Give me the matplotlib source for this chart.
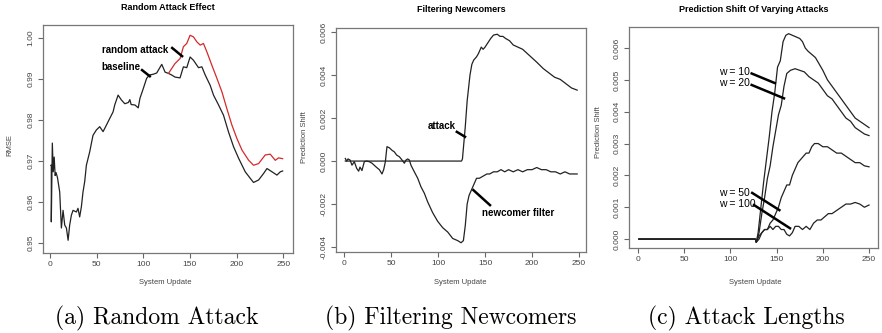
import matplotlib
matplotlib.use("Agg")
import matplotlib.pyplot as plt

# -------------------------
# Data
# -------------------------

# (a) RMSE over system updates
base_t = [1, 1.4, 1.4, 2.5, 3.5, 4.5, 5.5, 6.5, 8, 10.4, 12.2, 14, 15.8, 17.6, 19.4,
          21.1, 22.9, 24.7, 28.3, 30, 31.8, 33.6, 35.4, 37.2, 39, 42.6, 46.1, 49.7,
          53.3, 56.9, 60.5, 64, 67.6, 69.4, 73, 76.6, 80.2, 84, 85.6, 87, 91, 94.6,
          96.4, 100, 103.6, 106.5, 110.8, 114.4, 119.8, 123.4, 127, 130.5, 134,
          139.4, 143, 146.6, 150.2, 153.8, 159.2, 162.8, 166.4, 171.7, 175.3,
          180.7, 186, 191.4, 196.8, 202.2, 209.3, 214.7, 218.2, 223.6, 229,
          232.6, 238, 243.3, 246.9, 249.4]
base_rmse = [0.9690, 0.9690, 0.9552, 0.9744, 0.9674, 0.9710, 0.9665, 0.9672, 0.9660,
             0.9625, 0.9537, 0.9580, 0.9544, 0.9537, 0.9507, 0.9544, 0.9568, 0.9580,
             0.9576, 0.9585, 0.9564, 0.9588, 0.9625, 0.9650, 0.9690, 0.9723, 0.9763,
             0.9776, 0.9784, 0.9772, 0.9788, 0.9804, 0.9820, 0.9837, 0.9861, 0.9849,
             0.9840, 0.9843, 0.9850, 0.9838, 0.9837, 0.9830, 0.9853, 0.9877, 0.9902,
             0.9910, 0.9912, 0.9915, 0.9936, 0.9917, 0.9914, 0.9910, 0.9905, 0.9903,
             0.9930, 0.9928, 0.9954, 0.9946, 0.9928, 0.9930, 0.9910, 0.9885, 0.9861,
             0.9837, 0.9812, 0.9771, 0.9735, 0.9707, 0.9674, 0.9658, 0.9648, 0.9654,
             0.9670, 0.9682, 0.9674, 0.9666, 0.9674, 0.9676]

attack_t = [127, 130.5, 134, 139.4, 143, 146.6, 150.2, 153.8, 157.4, 161, 164.5,
            168.1, 173.5, 178.9, 184.3, 189.6, 195, 200.4, 205.8, 213, 218.2,
            223.6, 230.7, 236.1, 241.5, 245, 249.4]
attack_rmse = [0.9914, 0.9926, 0.9938, 0.9950, 0.9979, 0.9987, 1.0007, 1.0003, 0.9991,
               0.9983, 0.9987, 0.9967, 0.9934, 0.9902, 0.9869, 0.9828, 0.9788, 0.9755,
               0.9727, 0.9702, 0.9690, 0.9694, 0.9715, 0.9717, 0.9702, 0.9708, 0.9706]

# (b) prediction shift with and without the newcomer filter
shift_t = [1.4, 125, 126, 127, 128, 129, 130, 131, 132, 134, 136, 138, 141, 143, 146,
           148, 150, 153, 156, 159, 163, 166, 169, 172, 176, 180, 185, 190, 195, 200,
           205, 212, 218, 224, 230, 236, 242, 248]
shift_attack = [0.0, 0.0, 0.0001, 0.0006, 0.0011, 0.0016, 0.0022, 0.0028, 0.0032,
                0.0040, 0.0045, 0.0047, 0.00485, 0.0050, 0.0053, 0.0052, 0.0053,
                0.0055, 0.0057, 0.00586, 0.0059, 0.0058, 0.0058, 0.0057, 0.0056,
                0.0054, 0.0053, 0.0052, 0.0050, 0.0048, 0.0046, 0.0043, 0.0041,
                0.0039, 0.0038, 0.0036, 0.0034, 0.0033]

filter_t = [1.4, 2.8, 4.3, 6.4, 8.5, 11, 13.5, 15.6, 17, 19.1, 21.6, 24.1, 27, 29.8,
            32.3, 34.8, 37.6, 40.4, 42.2, 44, 45.7, 48.2, 51.1, 53.5, 56, 58.9, 61.7,
            64.2, 66, 67.7, 69.5, 71.3, 74.8, 78.4, 81.9, 85.5, 89, 94.3, 99.6, 105,
            110.3, 115.6, 120.9, 124.5, 127, 129, 131, 133, 136, 138, 141, 144, 148,
            152, 155, 159, 163, 167, 171, 175, 180, 185, 190, 195, 200, 205, 210,
            215, 220, 225, 230, 235, 240, 245, 248]
filter_shift = [0.00012, 0.0, 0.0001, 0.00005, -0.00019, -0.00003, -0.00034, -0.00047,
                -0.00028, -0.00044, -0.00003, 0.0, -0.00003, -0.0001, -0.0002, -0.0003,
                -0.0004, -0.0006, -0.0004, -0.00003, 0.00067, 0.00062, 0.0005, 0.00043,
                0.00028, 0.0002, 0.00005, -0.0001, 0.00005, 0.0001, 0.00005, -0.0002,
                -0.0005, -0.0008, -0.0012, -0.0015, -0.0019, -0.0024, -0.0028, -0.0031,
                -0.0033, -0.0036, -0.0037, -0.0038, -0.0037, -0.0030, -0.0020, -0.0016,
                -0.0013, -0.0011, -0.0008, -0.0008, -0.0007, -0.0006, -0.0006, -0.0005,
                -0.0005, -0.0004, -0.0005, -0.0004, -0.0005, -0.0004, -0.0005, -0.0004,
                -0.0004, -0.0003, -0.0004, -0.0004, -0.0005, -0.0005, -0.0006, -0.0005,
                -0.0006, -0.0006, -0.0006]

# (c) prediction shift for different attack lengths w
w10_t = [1, 127, 128, 130, 133, 136, 139, 142, 145, 148, 151, 154, 157, 160, 163, 167,
         171, 175, 178, 181, 184, 188, 192, 196, 200, 205, 210, 215, 220, 225, 230,
         235, 240, 245, 250]
w10_shift = [0.0, 0.0, -0.0001, 0.0002, 0.0010, 0.0018, 0.0025, 0.0032, 0.0040, 0.0046,
             0.0054, 0.0056, 0.0062, 0.0064, 0.00645, 0.0064, 0.00635, 0.0063, 0.0062,
             0.0060, 0.0059, 0.0058, 0.0057, 0.0055, 0.0053, 0.0050, 0.0048, 0.0046,
             0.0044, 0.0042, 0.0040, 0.0038, 0.0037, 0.0036, 0.0035]

w20_t = [1, 127, 128, 131, 134, 137, 140, 143, 146, 149, 152, 155, 158, 161, 165, 170,
         175, 180, 185, 190, 195, 200, 205, 210, 215, 220, 225, 230, 235, 240, 245, 250]
w20_shift = [0.0, 0.0, -0.0001, 0.0002, 0.0008, 0.0013, 0.0019, 0.0023, 0.0029, 0.0034,
             0.0039, 0.0042, 0.0048, 0.0052, 0.0053, 0.00535, 0.0053, 0.00525, 0.0051,
             0.0050, 0.0049, 0.0047, 0.0045, 0.0044, 0.0042, 0.0040, 0.0038, 0.0037,
             0.0035, 0.0034, 0.0033, 0.00325]

w50_t = [1, 127, 128, 131, 134, 137, 140, 143, 146, 149, 152, 155, 158, 161, 164, 167,
         170, 173, 176, 179, 182, 185, 188, 191, 195, 200, 205, 210, 215, 220, 225,
         230, 235, 240, 245, 250]
w50_shift = [0.0, 0.0, -0.0001, 0.0, 0.0002, 0.0003, 0.0003, 0.0005, 0.0006, 0.0008,
             0.0010, 0.0013, 0.0015, 0.0017, 0.0017, 0.0020, 0.0022, 0.0024, 0.0025,
             0.0026, 0.0027, 0.0027, 0.0029, 0.0030, 0.0030, 0.0029, 0.0029, 0.0028,
             0.0027, 0.0027, 0.0026, 0.0025, 0.0024, 0.0024, 0.0023, 0.00227]

w100_t = [1, 127, 128, 131, 134, 137, 140, 143, 146, 149, 152, 155, 158, 161, 164, 167,
          170, 174, 178, 182, 186, 190, 194, 198, 202, 206, 210, 215, 220, 225, 230,
          235, 240, 245, 250]
w100_shift = [0.0, 0.0, -0.0001, 0.0001, 0.0002, 0.0003, 0.0003, 0.0004, 0.0003,
              0.0004, 0.0004, 0.0003, 0.0003, 0.00015, 0.0001, 0.0002, 0.0004, 0.0004,
              0.0003, 0.0004, 0.0003, 0.0005, 0.0006, 0.0006, 0.0007, 0.0008, 0.0008,
              0.0009, 0.0010, 0.0011, 0.0011, 0.00115, 0.0011, 0.0010, 0.00107]

# tick labels
x_ticks = [0, 50, 100, 150, 200, 250]
a_yticks = [0.95, 0.96, 0.97, 0.98, 0.99, 1.00]
a_ylabels = ["0.95", "0.96", "0.97", "0.98", "0.99", "1.00"]
b_yticks = [-0.004, -0.002, 0.0, 0.002, 0.004, 0.006]
b_ylabels = ["-0.004", "-0.002", "0.000", "0.002", "0.004", "0.006"]
c_yticks = [0.0, 0.001, 0.002, 0.003, 0.004, 0.005, 0.006]
c_ylabels = ["0.000", "0.001", "0.002", "0.003", "0.004", "0.005", "0.006"]

titles = ["Random Attack Effect", "Filtering Newcomers",
          "Prediction Shift Of Varying Attacks"]
ylabels = ["RMSE", "Prediction Shift", "Prediction Shift"]
captions = ["(a) Random Attack", "(b) Filtering Newcomers", "(c) Attack Lengths"]


# -------------------------
# Figure
# -------------------------

SANS = "Liberation Sans"
TICK_COL = "#444444"
LINE_COL = "#222222"

fig = plt.figure(figsize=(8.82, 3.33), dpi=100)
W, H = 882.0, 333.0


def make_axes(left, top, right, bottom):
    return fig.add_axes([left / W, 1 - bottom / H, (right - left) / W, (bottom - top) / H])


def style(ax, yticks, ylabs):
    for s in ax.spines.values():
        s.set_color("#777777")
        s.set_linewidth(0.9)
    ax.set_xticks(x_ticks)
    ax.set_xticklabels([str(v) for v in x_ticks])
    ax.set_yticks(yticks)
    ax.set_yticklabels(ylabs, rotation=90, va="center")
    ax.tick_params(direction="out", length=3.5, width=0.8, color="#666666",
                   labelsize=6, labelcolor=TICK_COL, pad=2.5)
    for lab in ax.get_xticklabels() + ax.get_yticklabels():
        lab.set_fontfamily(SANS)


ax_a = make_axes(43, 25, 293, 253)
ax_b = make_axes(336, 28, 586, 252)
ax_c = make_axes(629, 27, 878, 248)

# --- (a) ---
ax_a.plot(base_t, base_rmse, color=LINE_COL, lw=0.9)
ax_a.plot(attack_t, attack_rmse, color="#d42a2a", lw=0.9)
ax_a.set_xlim(-7.5, 260.5)
ax_a.set_ylim(0.9476, 1.0032)
style(ax_a, a_yticks, a_ylabels)
ax_a.text(127, 0.9972, "random attack", ha="right", va="center", fontsize=7,
          fontweight="bold", family=SANS)
ax_a.plot([131, 141.6], [0.9976, 0.9956], color="black", lw=1.8)
ax_a.text(97, 0.9930, "baseline", ha="right", va="center", fontsize=7,
          fontweight="bold", family=SANS)
ax_a.plot([98.7, 107], [0.9922, 0.9907], color="black", lw=1.8)

# --- (b) ---
ax_b.plot(shift_t, shift_attack, color=LINE_COL, lw=0.9)
ax_b.plot(filter_t, filter_shift, color=LINE_COL, lw=0.9)
ax_b.set_xlim(-8.5, 257.4)
ax_b.set_ylim(-0.00423, 0.00619)
style(ax_b, b_yticks, b_ylabels)
ax_b.text(119, 0.00163, "attack", ha="right", va="center", fontsize=7,
          fontweight="bold", family=SANS)
ax_b.plot([120, 128.7], [0.00136, 0.00113], color="black", lw=1.8)
ax_b.text(146.5, -0.00243, "newcomer filter", ha="left", va="center", fontsize=7,
          fontweight="bold", family=SANS)
ax_b.plot([137.6, 155.3], [-0.00135, -0.00205], color="black", lw=1.8)

# --- (c) ---
for tt, vv in [(w10_t, w10_shift), (w20_t, w20_shift), (w50_t, w50_shift),
               (w100_t, w100_shift)]:
    ax_c.plot(tt, vv, color=LINE_COL, lw=0.9)
ax_c.set_xlim(-9.7, 259.7)
ax_c.set_ylim(-0.00028, 0.00666)
style(ax_c, c_yticks, c_ylabels)
for lab, ty, seg in [("w = 10", 0.00526, [(123, 0.0052), (148, 0.0049)]),
                     ("w = 20", 0.00489, [(123, 0.00484), (158, 0.00442)]),
                     ("w = 50", 0.00145, [(123.6, 0.00145), (153, 0.00091)]),
                     ("w = 100", 0.00110, [(125.5, 0.00107), (164.5, 0.00034)])]:
    ax_c.text(88, ty, lab, ha="left", va="center", fontsize=7.5, family=SANS)
    ax_c.plot([seg[0][0], seg[1][0]], [seg[0][1], seg[1][1]], color="black", lw=1.8)

# titles, axis labels, captions
title_x = [168, 461, 754]
title_y = [8, 9, 9]
ylab_x = [10, 305, 599]
ylab_y = [145, 137, 132]
for i in range(3):
    fig.text(title_x[i] / W, 1 - title_y[i] / H, titles[i], ha="center", va="center",
             fontsize=6.5, fontweight="bold", family=SANS)
    fig.text(ylab_x[i] / W, 1 - ylab_y[i] / H, ylabels[i], ha="center", va="center",
             rotation=90, fontsize=5.5, color=TICK_COL, family=SANS)

xlab_x = [165, 460, 755]
for i in range(3):
    fig.text(xlab_x[i] / W, 1 - 283 / H, "System Update", ha="center", va="center",
             fontsize=5.5, color=TICK_COL, family=SANS)

cap_x = [157, 451, 746]
for i in range(3):
    fig.text(cap_x[i] / W, 1 - 318 / H, captions[i], ha="center", va="center",
             fontsize=17, family="cmr10")

fig.savefig("out.png", dpi=100)
